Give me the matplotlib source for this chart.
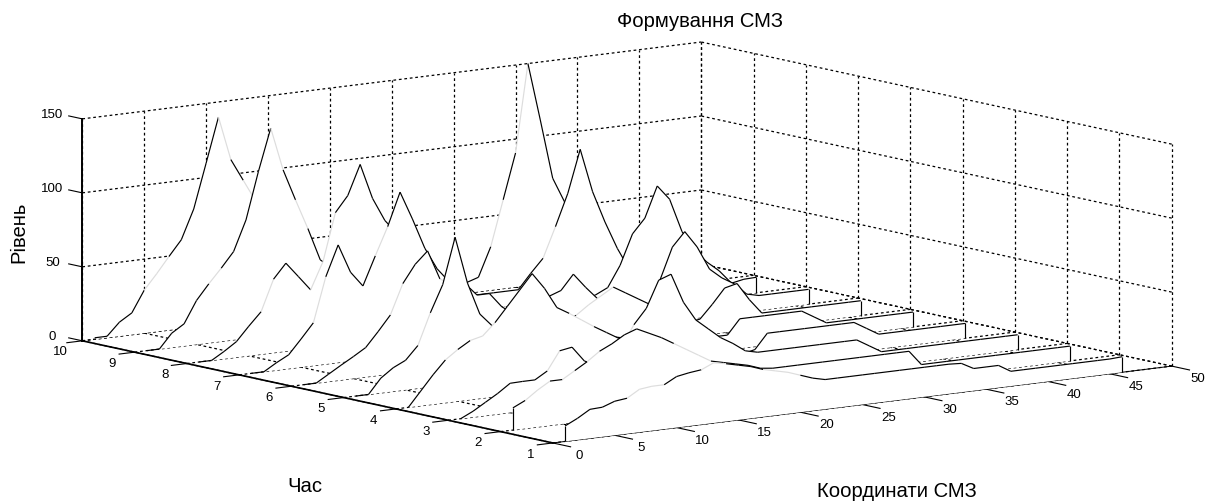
import numpy as np
import matplotlib
matplotlib.use('Agg')
import matplotlib.pyplot as plt
from mpl_toolkits.mplot3d import proj3d
from mpl_toolkits.mplot3d.art3d import Poly3DCollection, Line3DCollection

plt.rcParams['font.family'] = ['Liberation Sans', 'DejaVu Sans']

x_coords = np.arange(1, 47)
hours = np.arange(1, 11)

series_1 = [10.5, 14.6, 19.6, 20, 23, 24, 29, 30, 30, 34.5, 36, 37, 40.7, 39, 37, 35, 32, 30, 28, 25, 22, 20, 20,
            20, 20, 20, 20, 20, 20, 20, 20, 20, 19.5, 15, 15, 15, 10, 10, 10, 10, 10, 10, 10, 10, 10, 10.5]
series_2 = [15, 19, 25, 30, 30, 35, 40, 46, 50, 55, 58, 54, 50, 45, 40, 35, 30, 28, 26, 24, 21, 20, 20, 20,
            20, 20, 20, 20, 20, 20, 20, 20, 20, 10, 10, 10, 10, 10, 10, 10, 10, 10, 10, 10, 10, 10]
series_3 = [0, 4, 9, 14, 19.8, 20, 20, 25, 37.6, 39, 28.6, 25, 28, 35, 49, 59, 77, 80, 60, 47, 40, 33, 28, 22,
            20, 20, 20, 20, 20, 20, 20, 20, 20, 15, 10, 10, 10, 10, 10, 10, 10, 10, 10, 10, 10, 10]
series_4 = [0, 10, 20, 29, 35, 40, 42, 50, 60, 70, 80, 69, 55, 50, 44.5, 39, 34, 29, 25, 22, 20, 18, 15, 12, 10,
            8, 8, 8, 10, 20, 20, 20, 20, 20, 20, 20, 20, 15, 10, 10, 10, 10, 10, 10, 10, 10]
series_5 = [0, 0, 10, 16, 20, 29, 50, 68, 99, 67, 45, 36, 30, 28, 26, 25, 24, 22, 20, 20, 18, 18, 16, 15, 14, 13,
            12, 11, 10, 10, 10, 20, 20, 20, 20, 20, 20, 15, 10, 10, 10, 10, 10, 10, 10, 10]
series_6 = [0, 0, 5, 10, 14.8, 19.9, 29.6, 39.9, 60, 72, 80, 60, 55, 55, 46, 46, 36, 30, 25, 22, 20, 20, 24, 30,
            35, 40, 35, 30, 25, 20, 12, 10, 11, 20, 30, 32, 20, 10, 10, 10, 10, 10, 10, 10, 10, 10]
series_7 = [0, 0, 5, 9.4, 19, 29, 59, 79.5, 60, 49.7, 69, 87.7, 110, 90.8, 70, 55, 45, 38, 30, 25, 20, 18, 20,
            24, 27, 30, 40, 30, 21, 15, 10, 10, 10.7, 28.8, 50, 59.4, 48, 32, 25, 20, 12, 10, 10, 10, 10, 10]
series_8 = [0, 0, 5, 10.6, 20, 28.8, 49.7, 59.5, 49.5, 39.4, 57.5, 89.5, 100, 120, 96, 80, 70, 55, 40, 30, 22,
            18, 15, 12, 10, 10, 10, 10, 10, 10, 10, 10, 12, 16, 30, 50.2, 59.8, 80.5, 70.5, 47.6, 34, 25, 18,
            8.6, 10.2, 10.5]
series_9 = [0, 0, 9.7, 15, 29.7, 40, 49.5, 59.7, 80, 111.6, 140, 110.7, 89.4, 69, 46.8, 40, 30, 22, 15, 10, 10,
            10, 10, 10, 10, 10, 10, 10, 10, 10, 10, 20, 29.2, 49.5, 71, 99.7, 70, 48.5, 29.6, 14, 10, 10, 10, 10,
            10, 10]
series_10 = [1, 1, 9.5, 14.7, 29, 39, 49.7, 60, 79.7, 109.6, 139.8, 110, 95, 80, 65, 50, 40, 30, 20, 15, 10, 10,
             10, 10, 10, 10, 10, 10, 10, 10, 7, 9.7, 29.4, 60, 90.6, 150, 110.8, 70.4, 52.7, 30, 20, 15, 10, 10,
             10, 10]
all_series = [series_1, series_2, series_3, series_4, series_5,
              series_6, series_7, series_8, series_9, series_10]

x_ticks = [0, 5, 10, 15, 20, 25, 30, 35, 40, 45, 50]
y_ticks = [1, 2, 3, 4, 5, 6, 7, 8, 9, 10]
z_ticks = [0, 50, 100, 150]

# stretches of each line that came out pale in the scan: hour -> (from x, to x)
pale_parts = {1: [(6, 9), (12, 14), (17, 20)], 2: [(2, 4), (5, 6), (7, 8), (14, 17)], 3: [(8, 9), (14, 15)],
              4: [(4, 5), (6, 8), (14, 16)], 5: [(6, 7)], 6: [(8, 9), (12, 13), (23, 26)], 7: [(6, 7), (11, 12)],
              8: [(6, 7), (10, 12)], 9: [(6, 7), (11, 12), (13, 14), (33, 34)],
              10: [(5, 7), (11, 12), (13, 14), (33, 34), (35, 36)]}

W, H = 1206, 501
S = 1300.0
cx, cy = 627.0, 242.5

fig = plt.figure(figsize=(W / 100, H / 100), dpi=100)
left = (cx - 0.5135 * S) / W
bottom = (H - cy - 0.5135 * S) / H
ax = fig.add_axes([left, bottom, S / W, S / H], projection='3d', proj_type='ortho')
ax.computed_zorder = False
ax.view_init(elev=9.45, azim=-127.1)
aspect = np.array([776.0, 780.0, 225.0])
ax.set_box_aspect(aspect, zoom=np.linalg.norm(aspect) / (S / 1.85) / (1.8294640721620434 * 25 / 24))
ax.set_axis_off()

xmin, xmax = x_ticks[0], x_ticks[-1]
ymin, ymax = y_ticks[0], y_ticks[-1]
zmin, zmax = z_ticks[0], z_ticks[-1]

# grid on the floor and the two back walls, matlab style
grid_kw = dict(color='black', linewidth=0.9, linestyle=(0, (2.2, 2.2)), zorder=1)
for v in x_ticks:
    ax.plot([v, v], [ymin, ymax], [zmin, zmin], **grid_kw)
    ax.plot([v, v], [ymax, ymax], [zmin, zmax], **grid_kw)
for v in y_ticks:
    ax.plot([xmin, xmax], [v, v], [zmin, zmin], **grid_kw)
    ax.plot([xmax, xmax], [v, v], [zmin, zmax], **grid_kw)
for v in z_ticks:
    ax.plot([xmin, xmax], [ymax, ymax], [v, v], **grid_kw)
    ax.plot([xmax, xmax], [ymin, ymax], [v, v], **grid_kw)

# axis lines and outward ticks
ax.plot([xmin, xmax], [ymin, ymin], [zmin, zmin], color='black', linewidth=0.7, zorder=2)
ax.plot([xmin, xmin], [ymin, ymax], [zmin, zmin], color='black', linewidth=1.2, zorder=2)
ax.plot([xmin, xmin], [ymax, ymax], [zmin, zmax], color='black', linewidth=1.4, zorder=2)
for v in x_ticks:
    ax.plot([v, v], [ymin, ymin - 0.34], [zmin, zmin], color='black', linewidth=0.8, zorder=2)
for v in y_ticks:
    ax.plot([xmin, xmin - 1.25], [v, v], [zmin, zmin], color='black', linewidth=0.8, zorder=2)
for v in z_ticks:
    ax.plot([xmin, xmin], [ymax, ymax + 0.26], [v, v], color='black', linewidth=0.8, zorder=2)

# one white ribbon per hour, front ones drawn last
for i, k in enumerate(hours):
    z = np.array(all_series[i], dtype=float)
    verts = [(x_coords[0], k, 0)] + [(a, k, b) for a, b in zip(x_coords, z)] + [(x_coords[-1], k, 0)]
    poly = Poly3DCollection([verts], facecolors='white', edgecolors='none', zorder=100 - 2 * k)
    ax.add_collection3d(poly, autolim=False)
    segs = [[verts[j], verts[j + 1]] for j in range(len(verts) - 1)]
    cols = []
    for j in range(len(segs)):
        xa = segs[j][0][0]
        pale = any(a <= xa < b for a, b in pale_parts[k]) and j > 0
        cols.append('#dddddd' if pale else 'black')
    line = Line3DCollection(segs, colors=cols, linewidths=0.85, zorder=101 - 2 * k)
    ax.add_collection3d(line, autolim=False)

ax.set_xlim(xmin, xmax, view_margin=0)
ax.set_ylim(ymin, ymax, view_margin=0)
ax.set_zlim(zmin, zmax, view_margin=0)


def tick_label(x, y, z, s):
    # project by hand so the label sits as plain 2d text
    px, py, _ = proj3d.proj_transform(x, y, z, ax.get_proj())
    ax.text2D(px, py, s, transform=ax.transData, fontsize=9.5, ha='center', va='center', zorder=200)


for v in x_ticks:
    tick_label(v, 0.5, -5, str(v))
for v in y_ticks:
    tick_label(-1.8, v, -6, str(v))
for v in z_ticks:
    tick_label(0, 10.57, v - 2, str(v))

fig.text(700 / W, 1 - 27 / H, 'Формування СМЗ', fontsize=14.6, ha='center', va='baseline')
fig.text(305 / W, 1 - 492.5 / H, 'Час', fontsize=14.6, ha='center', va='baseline')
fig.text(896.5 / W, 1 - 497 / H, 'Координати СМЗ', fontsize=14.6, ha='center', va='baseline')
fig.text(19 / W, 1 - 232 / H, 'Рівень', fontsize=14.6, rotation=90, ha='center', va='center')

fig.savefig('out.png', dpi=100)
